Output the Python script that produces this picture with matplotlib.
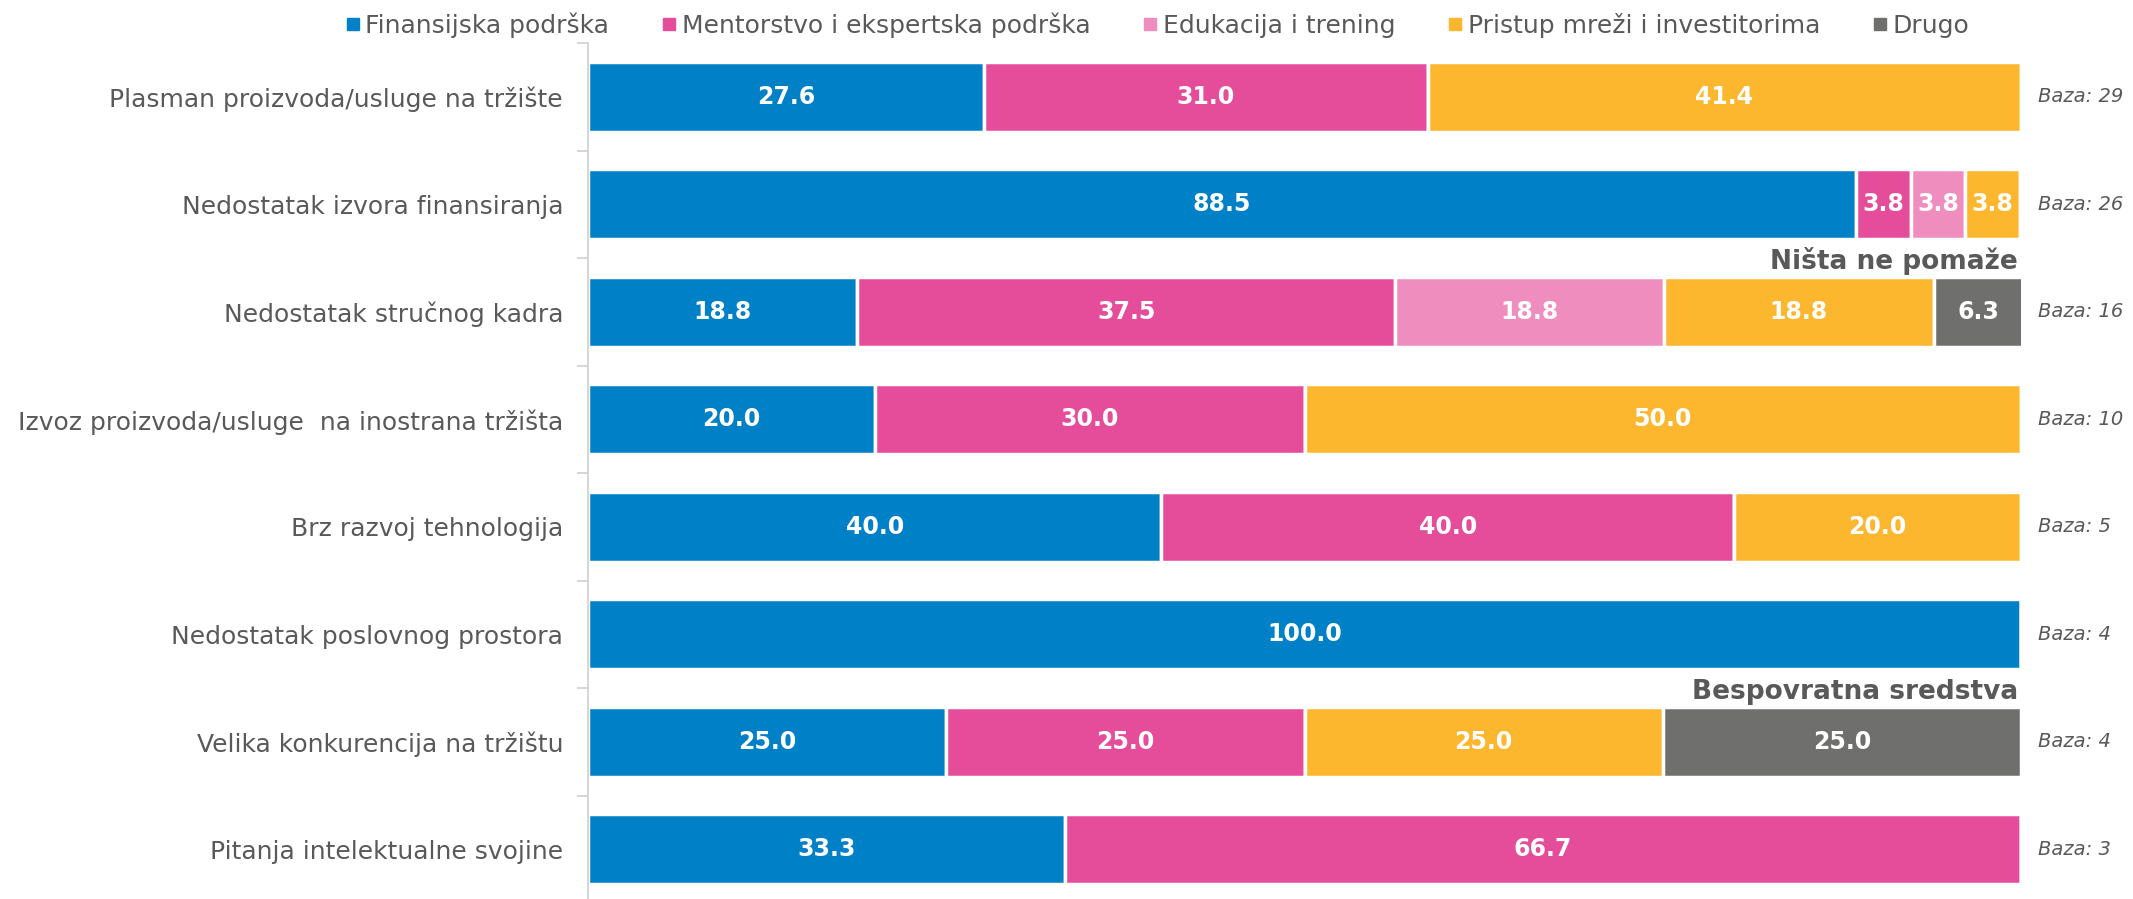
import matplotlib
matplotlib.use("Agg")
import matplotlib.pyplot as plt
from matplotlib.lines import Line2D
import numpy as np

plt.rcParams['font.family'] = ['DejaVu Sans']

categories = [
    "Plasman proizvoda/usluge na tržište",
    "Nedostatak izvora finansiranja",
    "Nedostatak stručnog kadra",
    "Izvoz proizvoda/usluge  na inostrana tržišta",
    "Brz razvoj tehnologija",
    "Nedostatak poslovnog prostora",
    "Velika konkurencija na tržištu",
    "Pitanja intelektualne svojine",
]
series_names = ["Finansijska podrška", "Mentorstvo i ekspertska podrška",
                "Edukacija i trening", "Pristup mreži i investitorima", "Drugo"]
finansijska = [27.6, 88.5, 18.8, 20.0, 40.0, 100.0, 25.0, 33.3]
mentorstvo = [31.0, 3.8, 37.5, 30.0, 40.0, 0.0, 25.0, 66.7]
edukacija = [0.0, 3.8, 18.8, 0.0, 0.0, 0.0, 0.0, 0.0]
pristup = [41.4, 3.8, 18.8, 50.0, 20.0, 0.0, 25.0, 0.0]
drugo = [0.0, 0.0, 6.3, 0.0, 0.0, 0.0, 25.0, 0.0]
baza = [29, 26, 16, 10, 5, 4, 4, 3]
notes = {2: "Ništa ne pomaže", 6: "Bespovratna sredstva"}

colors = ["#0080C6", "#E54D9A", "#EF8DBF", "#FDB72F", "#6F706D"]
text_gray = "#595959"

fig = plt.figure(figsize=(21.33, 8.99), dpi=100)
ax = fig.add_axes([0.2757, -0.0045, 0.6718, 0.9566])

y = np.arange(len(categories))
left = np.zeros(len(categories))
for vals, col, name in zip([finansijska, mentorstvo, edukacija, pristup, drugo], colors, series_names):
    vals = np.array(vals)
    ax.barh(y, vals, left=left, height=0.65, color=col, edgecolor="white", linewidth=2.5, label=name)
    for i, v in enumerate(vals):
        if v > 0:
            ax.text(left[i] + v / 2, y[i], f"{v:.1f}", ha="center", va="center",
                    color="white", fontsize=17, fontweight="bold")
    left += vals

for i, b in enumerate(baza):
    ax.text(101.2, y[i], f"Baza: {b}", ha="left", va="center", color=text_gray,
            fontsize=14, style="italic")

for i, t in notes.items():
    ax.text(99.8, y[i] - 0.345, t, ha="right", va="bottom", color=text_gray,
            fontsize=19, fontweight="bold")

ax.set_xlim(0, 100)
ax.set_ylim(len(categories) - 0.5, -0.5)
ax.set_yticks(y)
ax.set_yticklabels(categories, fontsize=18, color=text_gray)
ax.set_yticks(np.arange(-0.5, len(categories), 1.0), minor=True)
ax.tick_params(axis="y", which="major", length=0, pad=18)
ax.tick_params(axis="y", which="minor", length=8, color="#D0D0D0", width=1.2)
ax.set_xticks([])
for s in ["top", "right", "bottom"]:
    ax.spines[s].set_visible(False)
ax.spines["left"].set_color("#D0D0D0")
ax.spines["left"].set_linewidth(1.2)

handles = [Line2D([0], [0], marker="s", linestyle="none", markersize=8,
                  markerfacecolor=c, markeredgecolor=c) for c in colors]
leg = fig.legend(handles, series_names, loc="center", bbox_to_anchor=(0.542, 0.972),
                 ncol=5, frameon=False, fontsize=18, handletextpad=0.1,
                 columnspacing=2.0, handlelength=0.8)
for t in leg.get_texts():
    t.set_color(text_gray)

fig.savefig("out.png", dpi=100)
